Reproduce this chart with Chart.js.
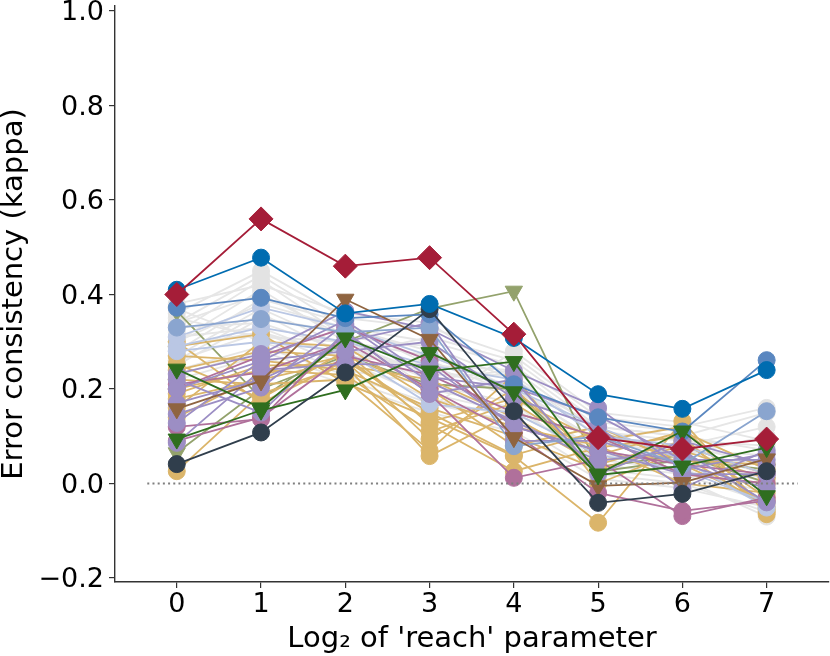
<!DOCTYPE html>
<html>
<head>
<meta charset="utf-8">
<script src="https://cdn.jsdelivr.net/npm/chart.js@4.4.0/dist/chart.umd.min.js"></script>
<style>
  html, body { margin: 0; padding: 0; background: #fff; }
  #chart { display: block; }
</style>
</head>
<body>
<canvas id="chart" width="830" height="656"></canvas>
<script>
// reach parameter (log2) and y ticks
const reachLog2 = [0, 1, 2, 3, 4, 5, 6, 7];
const yTicks = [-0.2, 0.0, 0.2, 0.4, 0.6, 0.8, 1.0];

// series values, one row per observer / model
const humanKappa = [0.40, 0.56, 0.46, 0.478, 0.316, 0.097, 0.073, 0.094];
const blueKappa = [0.41, 0.478, 0.36, 0.38, 0.308, 0.189, 0.158, 0.24];
const slateKappa = [0.041, 0.108, 0.235, 0.369, 0.153, -0.041, -0.022, 0.026];
const greenKappa = [
  [0.242, 0.16, 0.308, 0.238, 0.258, 0.02, 0.111, -0.026],
  [0.094, 0.155, 0.198, 0.277, 0.194, 0.018, 0.037, 0.076]
];
const brownKappa = [0.158, 0.217, 0.39, 0.305, 0.097, -0.005, 0.002, 0.052];
const oliveKappa = [
  [0.365, 0.18, 0.30, 0.37, 0.407, 0.035, 0.06, 0.002],
  [0.065, 0.20, 0.27, 0.21, 0.20, 0.025, 0.05, 0.03]
];
const midBlueKappa = [0.372, 0.393, 0.35, 0.358, 0.21, 0.14, 0.11, 0.261];
const lightBlueKappa = [0.33, 0.348, 0.32, 0.33, 0.079, 0.10, 0.04, 0.153];
const paleBlueKappa = [
  [0.31, 0.372, 0.33, 0.27, 0.20, 0.12, 0.05, -0.051],
  [0.28, 0.30, 0.28, 0.168, 0.15, 0.06, 0.03, -0.04],
  [0.29, 0.33, 0.30, 0.25, 0.22, 0.10, 0.08, 0.02]
];
const purpleKappa = [
  [0.232, 0.274, 0.365, 0.327, 0.238, 0.16, 0.03, 0.063],
  [0.20, 0.259, 0.345, 0.225, 0.203, 0.143, 0.05, 0.05],
  [0.147, 0.203, 0.337, 0.215, 0.132, 0.048, 0.07, -0.04],
  [0.128, 0.26, 0.28, 0.30, 0.18, 0.12, -0.01, 0.07],
  [0.086, 0.24, 0.253, 0.25, 0.12, 0.07, 0.02, 0.02],
  [0.22, 0.15, 0.32, 0.19, 0.22, 0.02, 0.09, 0.04],
  [0.17, 0.22, 0.30, 0.34, 0.09, 0.09, 0.04, -0.01]
];
const mauveKappa = [
  [0.21, 0.235, 0.30, 0.20, 0.107, -0.02, -0.058, -0.037],
  [0.12, 0.136, 0.32, 0.19, 0.012, 0.05, -0.069, -0.03],
  [0.09, 0.14, 0.27, 0.23, 0.15, 0.10, 0.02, 0.0],
  [0.20, 0.27, 0.33, 0.26, 0.12, 0.07, 0.04, 0.02]
];
const goldKappa = [
  [0.29, 0.316, 0.213, 0.139, 0.058, -0.083, 0.132, -0.065],
  [0.253, 0.18, 0.28, 0.125, 0.026, 0.076, 0.10, -0.06],
  [0.179, 0.22, 0.26, 0.094, 0.20, 0.05, 0.06, -0.05],
  [0.026, 0.19, 0.25, 0.058, 0.15, 0.10, 0.02, 0.0],
  [0.27, 0.26, 0.24, 0.16, 0.10, 0.03, 0.08, 0.02],
  [0.24, 0.28, 0.27, 0.20, 0.08, 0.12, 0.04, -0.04],
  [0.20, 0.24, 0.23, 0.11, 0.17, 0.06, 0.11, 0.03],
  [0.16, 0.30, 0.29, 0.18, 0.12, 0.08, 0.0, -0.02],
  [0.22, 0.21, 0.22, 0.07, 0.23, 0.0, 0.07, 0.01],
  [0.30, 0.17, 0.26, 0.15, 0.06, 0.11, 0.05, 0.04],
  [0.19, 0.25, 0.25, 0.22, 0.14, 0.04, 0.09, -0.03],
  [0.14, 0.23, 0.27, 0.13, 0.18, 0.09, 0.12, -0.055]
];
const grayKappa = [
  [0.34, 0.44, 0.33, 0.30, 0.25, 0.12, 0.10, 0.15],
  [0.36, 0.45, 0.35, 0.33, 0.27, 0.14, 0.12, 0.16],
  [0.32, 0.43, 0.31, 0.29, 0.22, 0.10, 0.08, 0.12],
  [0.30, 0.41, 0.30, 0.27, 0.20, 0.09, 0.06, 0.10],
  [0.28, 0.39, 0.34, 0.25, 0.18, 0.07, 0.04, 0.05],
  [0.27, 0.37, 0.29, 0.22, 0.24, 0.11, 0.09, 0.08],
  [0.26, 0.36, 0.27, 0.31, 0.26, 0.13, 0.11, 0.03],
  [0.25, 0.35, 0.32, 0.20, 0.16, 0.05, 0.03, -0.02],
  [0.33, 0.34, 0.28, 0.24, 0.21, 0.08, 0.07, 0.06],
  [0.31, 0.33, 0.26, 0.18, 0.14, 0.04, 0.02, -0.04],
  [0.29, 0.32, 0.25, 0.26, 0.19, 0.06, 0.05, 0.01],
  [0.35, 0.31, 0.30, 0.23, 0.23, 0.10, 0.08, 0.04],
  [0.37, 0.30, 0.24, 0.21, 0.17, 0.03, 0.01, -0.07],
  [0.24, 0.29, 0.23, 0.17, 0.13, 0.02, 0.00, -0.06],
  [0.23, 0.28, 0.22, 0.16, 0.28, 0.15, 0.13, 0.09],
  [0.38, 0.42, 0.36, 0.34, 0.22, 0.12, 0.10, 0.07],
  [0.22, 0.27, 0.21, 0.15, 0.11, 0.01, -0.01, -0.05],
  [0.30, 0.38, 0.33, 0.28, 0.20, 0.09, 0.07, 0.02],
  [0.34, 0.40, 0.31, 0.19, 0.15, 0.06, 0.04, -0.01],
  [0.26, 0.32, 0.27, 0.25, 0.24, 0.11, 0.06, 0.00]
];
// chance level reference (kappa = 0), spans this x range
const chanceSpan = [-0.35, 7.37];

const FONT = 'DejaVu Sans';

function series(vals, color, style, radius, lineColor) {
  return {
    data: vals.map((v, i) => ({ x: reachLog2[i], y: v })),
    borderColor: lineColor || color,
    borderWidth: 1.8,
    pointBackgroundColor: color,
    pointBorderColor: color,
    pointBorderWidth: 1,
    pointStyle: style,
    pointRadius: radius,
    pointRotation: style === 'triangle' ? 180 : 0,
    tension: 0
  };
}

const datasets = [];
// drawn top first
datasets.push({
  data: chanceSpan.map(x => ({ x: x, y: 0 })),
  borderColor: '#7f7f7f', borderWidth: 2, borderDash: [2, 3.2], pointRadius: 0
});
datasets.push(series(humanKappa, '#a51d38', 'rectRot', 12));
datasets.push(series(blueKappa, '#006cb0', 'circle', 8.5));
datasets.push(series(slateKappa, '#303e4c', 'circle', 8.5));
greenKappa.forEach(r => datasets.push(series(r, '#2f6e1f', 'triangle', 10)));
datasets.push(series(brownKappa, '#8f6440', 'triangle', 10));
datasets.push(series(midBlueKappa, '#5a87c0', 'circle', 8.5));
datasets.push(series(lightBlueKappa, '#8aa5cf', 'circle', 8.5));
purpleKappa.forEach(r => datasets.push(series(r, '#9c8ec4', 'circle', 8.5)));
mauveKappa.forEach(r => datasets.push(series(r, '#b0709b', 'circle', 8.5)));
paleBlueKappa.forEach(r => datasets.push(series(r, '#bac7e4', 'circle', 8.5)));
goldKappa.forEach(r => datasets.push(series(r, '#dbb56a', 'circle', 8.5)));
oliveKappa.forEach(r => datasets.push(series(r, '#93a26c', 'triangle', 10)));
grayKappa.forEach(r => datasets.push(series(r, '#e3e3e3', 'circle', 8.5, '#e6e6e6')));

new Chart(document.getElementById('chart'), {
  type: 'line',
  data: { datasets: datasets },
  options: {
    responsive: false,
    animation: false,
    devicePixelRatio: 1,
    layout: { autoPadding: false, padding: { left: 0, right: 1, top: 6, bottom: 0 } },
    plugins: { legend: { display: false }, tooltip: { enabled: false } },
    scales: {
      x: {
        type: 'linear',
        min: -0.733,
        max: 7.74,
        afterBuildTicks: a => { a.ticks = reachLog2.map(v => ({ value: v })); },
        afterFit: s => { s.height = 74; s.paddingLeft = 0; s.paddingRight = 0; },
        grid: { display: true, drawOnChartArea: false, drawTicks: true, tickLength: 6, color: '#333', lineWidth: 1.2 },
        border: { display: true, color: '#333', width: 1.4 },
        ticks: { color: '#000', font: { family: FONT, size: 27 }, padding: 1, maxRotation: 0, callback: v => String(v) },
        title: {
          display: true, text: "Log\u2082 of 'reach' parameter", color: '#000',
          font: { family: FONT, size: 29, lineHeight: 1 }, padding: { top: 0, bottom: 2 }
        }
      },
      y: {
        type: 'linear',
        min: -0.2085,
        max: 1.0106,
        afterBuildTicks: a => { a.ticks = yTicks.map(v => ({ value: v })); },
        afterFit: s => { s.width = 115; s.paddingTop = 0; s.paddingBottom = 0; },
        grid: { display: true, drawOnChartArea: false, drawTicks: true, tickLength: 6, color: '#333', lineWidth: 1.2 },
        border: { display: true, color: '#333', width: 1.4 },
        ticks: {
          color: '#000', font: { family: FONT, size: 27, lineHeight: '4px' }, padding: 5, autoSkip: false,
          // empty first line nudges the label 2px below its tick, as in the reference
          callback: v => ['', (v < -1e-9 ? '\u2212' : '') + Math.abs(v).toFixed(1)]
        },
        title: {
          display: true, text: 'Error consistency (kappa)', color: '#000',
          font: { family: FONT, size: 29, lineHeight: 1 }, padding: { top: 0, bottom: 0 }
        }
      }
    }
  }
});
</script>
</body>
</html>
